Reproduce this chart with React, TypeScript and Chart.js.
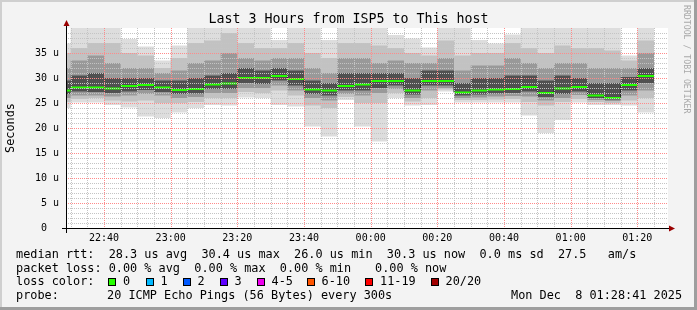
import React, { useEffect, useRef } from 'react';
import { Chart, registerables } from 'chart.js';

Chart.register(...registerables);

// ---------- data ----------
const slotTimes = ['22:25','22:30','22:35','22:40','22:45','22:50','22:55','23:00','23:05','23:10','23:15','23:20','23:25','23:30','23:35','23:40','23:45','23:50','23:55','00:00','00:05','00:10','00:15','00:20','00:25','00:30','00:35','00:40','00:45','00:50','00:55','01:00','01:05','01:10','01:15','01:20'];
const slotEnd = '01:25';
const viewStart = '22:28:54';
const viewEnd = '01:29:12';

const medianRtt = [27.5, 28.1, 28.1, 27.9, 28.4, 28.6, 28.1, 27.6, 27.8, 28.7, 28.9, 30.0, 30.0, 30.4, 29.8, 27.7, 27.5, 28.4, 28.7, 29.4, 29.4, 27.5, 29.4, 29.4, 27.1, 27.5, 27.7, 27.8, 28.2, 27.0, 27.9, 28.2, 26.5, 26.0, 28.6, 30.4];
const minRtt = [24, 25.1, 25.1, 24.6, 24.1, 22.3, 22, 23.1, 24, 24.6, 24.5, 26.1, 26, 24.6, 24.3, 20.3, 18.3, 25.6, 20.3, 17.3, 26, 24.5, 24.6, 27.3, 25.1, 25.1, 25.1, 25.1, 22.5, 19, 21.6, 25.1, 24.6, 24.6, 24.5, 23.1];
const p10Rtt = [25.2, 25.8, 26, 25.5, 25.3, 25.5, 25, 25, 25.2, 26, 26, 27.2, 27, 27.5, 26.5, 24.5, 24, 26.2, 25, 25, 27, 25.3, 26, 27.7, 25.6, 25.6, 25.7, 25.8, 25.2, 24.5, 25.2, 25.8, 25.2, 25, 25.5, 26];
const p25Rtt = [26, 26.5, 26.5, 26.3, 26.5, 26.8, 26.5, 26, 26.2, 27, 27, 28, 28, 28.5, 27.5, 26, 25.5, 26.8, 26.5, 27, 27.8, 26, 27.5, 28, 26, 26.1, 26.3, 26.4, 26.3, 25.5, 26, 26.6, 25.6, 25.4, 26.5, 27.5];
const p40Rtt = [26.8, 27.3, 27.2, 27, 27.3, 27.6, 27.2, 26.8, 26.9, 27.8, 27.8, 29, 28.8, 29.5, 28.5, 26.8, 26.5, 27.5, 27.5, 28, 28.5, 26.7, 28.5, 28.5, 26.5, 26.7, 26.9, 27, 27.3, 26.2, 26.8, 27.3, 26, 25.7, 27.5, 29];
const p60Rtt = [29.5, 30.5, 31, 30, 30, 30, 29.5, 29.5, 30, 30.5, 31, 32, 31.5, 32, 31.5, 29.5, 29, 31, 31, 31, 31, 30, 31.5, 31.5, 29, 30, 30, 30.5, 30.5, 29.5, 30.5, 30, 29, 29, 30.2, 32];
const p75Rtt = [32, 33.5, 34.5, 33, 32, 32, 31, 31.5, 33, 33.5, 35, 34, 33.5, 34, 34, 32, 31, 34, 34, 33, 33.5, 33, 33, 34, 31.5, 32.5, 32.5, 34, 33, 32, 33, 33, 32, 32, 32, 35];
const p90Rtt = [35, 36, 37, 37, 35, 34.5, 32, 34, 37, 37.5, 39, 37, 36, 36, 37, 35, 34, 37, 37, 36.5, 36, 35, 34.5, 37.5, 34.5, 35, 35, 37, 36, 35, 36.5, 36, 36, 35.5, 33.5, 37.5];
const maxRtt = [36.9, 40, 40, 40, 37.8, 36.3, 33.5, 36.5, 40, 40, 40, 40, 40, 37.6, 40, 40, 37.6, 40, 40, 40, 38.6, 37.9, 36.1, 40, 40, 37.6, 36.9, 38.7, 40, 40, 40, 40, 40, 40, 34.5, 40];

const xTickLabels = ['22:40','23:00','23:20','23:40','00:00','00:20','00:40','01:00','01:20'];
const yMajorTicks = [0, 5, 10, 15, 20, 25, 30, 35];
const yMax = 40;

const lossLabels = ['0', '1', '2', '3', '4-5', '6-10', '11-19', '20/20'];
const lossColors = ['#26ff00', '#00b8ff', '#0059ff', '#5e00ff', '#ee00ee', '#ff5500', '#ff0000', '#a10000'];

// ---------- helpers ----------
const MONO = '"DejaVu Sans Mono", monospace';

function toMin(t: string): number {
  const [h, m, s] = t.split(':').map(Number);
  const base = h >= 12 ? h - 22 : h + 2;
  return base * 60 + m + (s || 0) / 60;
}

const xs = [...slotTimes, slotEnd].map(toMin);
const xTickMinutes = xTickLabels.map(toMin);
const isMajorX = (v: number) => xTickMinutes.some((t) => Math.abs(t - v) < 0.01);
const isMajorY = (v: number) => yMajorTicks.includes(v);

const stepData = (vals: number[]) => xs.map((x, i) => ({ x, y: vals[Math.min(i, vals.length - 1)] }));
const medianSegments = slotTimes.flatMap((_, i) => [
  { x: xs[i], y: medianRtt[i] },
  { x: xs[i + 1], y: medianRtt[i] },
  { x: xs[i + 1], y: null as number | null },
]);

const smokeLayers = [
  { hi: maxRtt, lo: minRtt, color: '#dddddd', order: 5 },
  { hi: p90Rtt, lo: p10Rtt, color: '#c2c2c2', order: 4 },
  { hi: p75Rtt, lo: p25Rtt, color: '#999999', order: 3 },
  { hi: p60Rtt, lo: p40Rtt, color: '#505050', order: 2 },
];

const GRID_MINOR = '#c4c4c4';
const GRID_MAJOR = '#ff8a8a';

const bgPlugin = {
  id: 'rrdBackground',
  beforeDraw(chart: any) {
    const { ctx, chartArea: a, width, height } = chart;
    ctx.save();
    ctx.fillStyle = '#f3f3f3';
    ctx.fillRect(0, 0, width, height);
    ctx.fillStyle = '#ffffff';
    ctx.fillRect(a.left, a.top, a.right - a.left, a.bottom - a.top);
    ctx.fillStyle = '#cfcfcf';
    ctx.fillRect(0, 0, width, 2);
    ctx.fillRect(0, 0, 2, height);
    ctx.fillStyle = '#9e9e9e';
    ctx.fillRect(0, height - 3, width, 3);
    ctx.fillRect(width - 3, 0, 3, height);
    ctx.restore();
  },
};

// dotted grid (1px on / 1px off), drawn over the smoke like rrdtool does
const gridPlugin = {
  id: 'rrdGrid',
  afterDatasetsDraw(chart: any) {
    const { ctx, chartArea: a } = chart;
    const xScale = chart.scales.x;
    const yScale = chart.scales.y;
    const left = Math.round(a.left);
    const right = Math.round(a.right);
    const top = Math.round(a.top);
    const bottom = Math.round(a.bottom);
    ctx.save();
    const drawPass = (major: boolean) => {
      ctx.fillStyle = major ? GRID_MAJOR : GRID_MINOR;
      xScale.ticks.forEach((t: any) => {
        if (isMajorX(t.value) !== major) return;
        const px = Math.round(xScale.getPixelForValue(t.value));
        for (let y = top; y < bottom; y += 2) ctx.fillRect(px, y, 1, 1);
      });
      yScale.ticks.forEach((t: any) => {
        if (t.value === 0 || isMajorY(t.value) !== major) return;
        const py = Math.round(yScale.getPixelForValue(t.value));
        for (let x = left + 1; x < right; x += 2) ctx.fillRect(x, py, 1, 1);
      });
    };
    drawPass(false);
    drawPass(true);
    ctx.restore();
  },
};

const axesPlugin = {
  id: 'rrdAxes',
  afterDraw(chart: any) {
    const { ctx, chartArea: a } = chart;
    ctx.save();
    ctx.strokeStyle = '#000';
    ctx.lineWidth = 1;
    ctx.beginPath();
    ctx.moveTo(a.left - 5, a.bottom + 0.5);
    ctx.lineTo(a.right + 2, a.bottom + 0.5);
    ctx.moveTo(a.left - 0.5, a.bottom + 5);
    ctx.lineTo(a.left - 0.5, a.top - 3);
    ctx.stroke();
    ctx.fillStyle = '#9a0000';
    ctx.beginPath();
    ctx.moveTo(a.right + 1, a.bottom - 2.5);
    ctx.lineTo(a.right + 7, a.bottom + 0.5);
    ctx.lineTo(a.right + 1, a.bottom + 3.5);
    ctx.closePath();
    ctx.fill();
    ctx.beginPath();
    ctx.moveTo(a.left - 3.5, a.top - 2);
    ctx.lineTo(a.left - 0.5, a.top - 8);
    ctx.lineTo(a.left + 2.5, a.top - 2);
    ctx.closePath();
    ctx.fill();
    ctx.restore();
  },
};

function buildConfig(): any {
  const datasets: any[] = [
    {
      data: medianSegments,
      borderColor: lossColors[0],
      borderWidth: 2,
      pointRadius: 0,
      fill: false,
      spanGaps: false,
      order: 0,
    },
    {
      data: stepData(medianRtt),
      borderColor: '#202020',
      borderWidth: 1,
      pointRadius: 0,
      stepped: 'before',
      fill: false,
      order: 1,
    },
  ];
  smokeLayers.forEach((layer) => {
    datasets.push({
      data: stepData(layer.hi),
      borderColor: 'rgba(0,0,0,0)',
      borderWidth: 0,
      backgroundColor: layer.color,
      pointRadius: 0,
      stepped: 'before',
      fill: '+1',
      order: layer.order,
    });
    datasets.push({
      data: stepData(layer.lo),
      borderColor: 'rgba(0,0,0,0)',
      borderWidth: 0,
      pointRadius: 0,
      stepped: 'before',
      fill: false,
      order: layer.order,
    });
  });

  const tickFont = { family: MONO, size: 10 };
  return {
    type: 'line',
    data: { datasets },
    options: {
      responsive: false,
      animation: false,
      devicePixelRatio: 1,
      layout: { padding: { left: 0, top: 28, right: 29, bottom: 0 } },
      plugins: {
        legend: { display: false },
        tooltip: { enabled: false },
        title: { display: false },
        filler: { propagate: false },
      },
      elements: { point: { radius: 0 }, line: { tension: 0 } },
      scales: {
        x: {
          type: 'linear',
          min: toMin(viewStart),
          max: toMin(viewEnd),
          afterBuildTicks: (scale: any) => {
            scale.ticks = xs.slice(1).map((v) => ({ value: v }));
          },
          afterFit: (scale: any) => {
            scale.height = 82;
          },
          grid: { display: false, drawTicks: false },
          border: { display: false },
          ticks: {
            autoSkip: false,
            maxRotation: 0,
            padding: 4,
            color: '#000',
            font: tickFont,
            callback: (v: number) => {
              const i = xTickMinutes.findIndex((t) => Math.abs(t - v) < 0.01);
              return i >= 0 ? xTickLabels[i] : '';
            },
          },
        },
        y: {
          type: 'linear',
          min: 0,
          max: yMax,
          afterBuildTicks: (scale: any) => {
            scale.ticks = Array.from({ length: yMax }, (_, i) => ({ value: i }));
          },
          afterFit: (scale: any) => {
            scale.width = 67;
          },
          grid: { display: false, drawTicks: false },
          border: { display: false },
          ticks: {
            autoSkip: false,
            padding: 8,
            color: '#000',
            font: tickFont,
            callback: (v: number) => (isMajorY(v) ? (v === 0 ? '0  ' : `${v} u`) : ''),
          },
          title: {
            display: true,
            text: 'Seconds',
            color: '#000',
            font: { family: MONO, size: 11.85 },
            padding: { top: 4, bottom: 0 },
          },
        },
      },
    },
    plugins: [bgPlugin, gridPlugin, axesPlugin],
  };
}

const textLine = (top: number, left: number, text: string, key?: string) => (
  <div
    key={key}
    style={{ position: 'absolute', left, top, whiteSpace: 'pre', fontSize: 11.85, lineHeight: '14px' }}
  >
    {text}
  </div>
);

const swatchX = [108, 145.5, 182.5, 219.5, 256.5, 306.5, 365, 430.5];

export default function App() {
  const ref = useRef<HTMLCanvasElement>(null);
  useEffect(() => {
    document.body.style.margin = '0';
    const chart = new Chart(ref.current as HTMLCanvasElement, buildConfig());
    return () => chart.destroy();
  }, []);

  return (
    <div
      style={{
        position: 'fixed',
        left: 0,
        top: 0,
        width: 697,
        height: 310,
        overflow: 'hidden',
        background: '#f3f3f3',
        fontFamily: MONO,
        color: '#000',
      }}
    >
      <canvas ref={ref} width={697} height={310} style={{ position: 'absolute', left: 0, top: 0, width: 697, height: 310 }} />
      <div
        style={{
          position: 'absolute',
          left: 0,
          top: 11,
          width: 697,
          textAlign: 'center',
          fontSize: 13.3,
          lineHeight: '16px',
          whiteSpace: 'pre',
        }}
      >
        Last 3 Hours from ISP5 to This host
      </div>
      <div
        style={{
          position: 'absolute',
          left: 682,
          top: 5,
          writingMode: 'vertical-rl',
          fontSize: 8.2,
          lineHeight: '10px',
          color: '#a8a8a8',
          whiteSpace: 'pre',
        }}
      >
        RRDTOOL / TOBI OETIKER
      </div>
      {textLine(246.5, 16, 'median rtt:  28.3 us avg  30.4 us max  26.0 us min  30.3 us now  0.0 ms sd  27.5   am/s')}
      {textLine(260.5, 16, 'packet loss: 0.00 % avg  0.00 % max  0.00 % min')}
      {textLine(260.5, 375, '0.00 % now')}
      {textLine(274.3, 16, 'loss color:')}
      {lossLabels.map((lab, i) => (
        <React.Fragment key={lab}>
          <div
            style={{
              position: 'absolute',
              left: swatchX[i],
              top: 278,
              width: 8,
              height: 8,
              boxSizing: 'border-box',
              border: '1px solid #000',
              background: lossColors[i],
            }}
          />
          {textLine(274.3, swatchX[i] + 15, lab)}
        </React.Fragment>
      ))}
      {textLine(288, 16, 'probe:')}
      {textLine(288, 107, '20 ICMP Echo Pings (56 Bytes) every 300s')}
      {textLine(288, 511, 'Mon Dec  8 01:28:41 2025')}
    </div>
  );
}
